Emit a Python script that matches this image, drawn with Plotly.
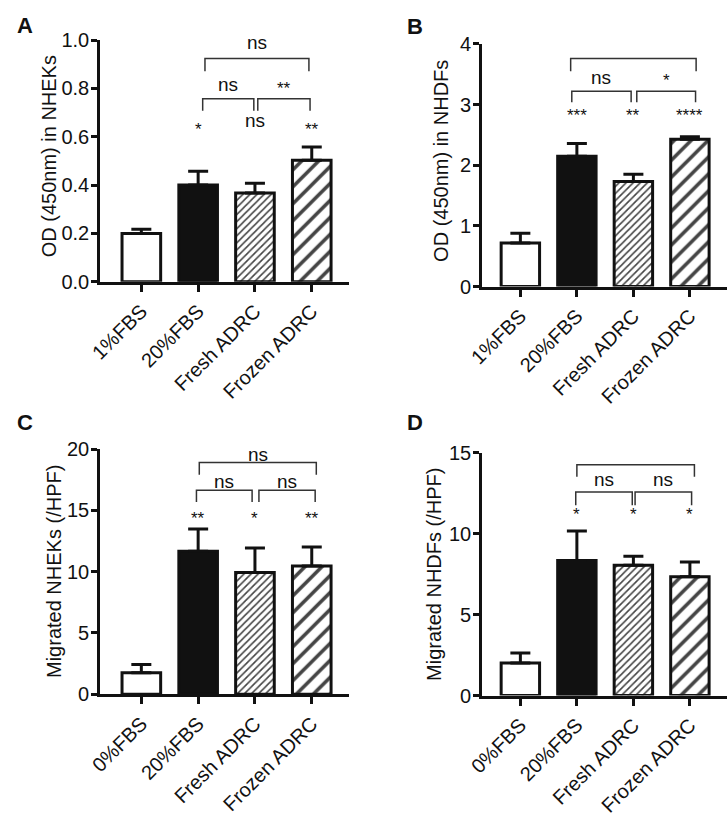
import plotly.graph_objects as go

W, H = 728, 817
FONT = "Arial, Liberation Sans, Helvetica, sans-serif"

# ---- data ----
cats_ab = ["1%FBS", "20%FBS", "Fresh ADRC", "Frozen ADRC"]
cats_cd = ["0%FBS", "20%FBS", "Fresh ADRC", "Frozen ADRC"]

a_vals = [0.20, 0.40, 0.367, 0.503]
a_err = [0.017, 0.057, 0.04, 0.054]
b_vals = [0.72, 2.15, 1.73, 2.43]
b_err = [0.16, 0.21, 0.12, 0.04]
c_vals = [1.75, 11.66, 9.92, 10.45]
c_err = [0.66, 1.82, 2.0, 1.55]
d_vals = [2.01, 8.35, 8.05, 7.35]
d_err = [0.62, 1.83, 0.56, 0.9]

a_stars = ["", "*", "ns", "**"]
b_stars = ["", "***", "**", "****"]
c_stars = ["", "**", "*", "**"]
d_stars = ["", "*", "*", "*"]

a_titles = ("OD (450nm) in NHEKs", [0, 0.2, 0.4, 0.6, 0.8, 1.0], 1.0)
b_titles = ("OD (450nm) in NHDFs", [0, 1, 2, 3, 4], 4)
c_titles = ("Migrated NHEKs (/HPF)", [0, 5, 10, 15, 20], 20)
d_titles = ("Migrated NHDFs (/HPF)", [0, 5, 10, 15], 15)

# comparison brackets: (x1, x2, y_leg_bottom, y_horizontal, label, label_y)
a_brk = [(1.08, 1.98, 0.707, 0.757, "ns", 0.816),
         (2.05, 2.97, 0.707, 0.757, "**", 0.80),
         (1.12, 2.95, 0.871, 0.923, "ns", 0.99)]
b_brk = [(0.91, 1.96, 3.04, 3.22, "ns", 3.45),
         (2.06, 3.10, 3.04, 3.22, "*", 3.40),
         (0.89, 3.11, 3.55, 3.76, "ns", 4.02)]
c_brk = [(0.97, 1.95, 15.67, 16.64, "ns", 17.33),
         (2.07, 3.06, 15.67, 16.64, "ns", 17.33),
         (1.02, 3.08, 17.9, 18.9, "ns", 19.54)]
d_brk = [(0.98, 1.98, 11.77, 12.59, "ns", 13.33),
         (2.03, 3.03, 11.77, 12.59, "ns", 13.33),
         (1.0, 3.08, 13.53, 14.27, "ns", 15.12)]
star_y = [0.63, 2.82, 14.35, 11.2]

panels = [
    dict(letter="A", cats=cats_ab, vals=a_vals, err=a_err, stars=a_stars, t=a_titles, brk=a_brk,
         px=(87, 341), py=(280, 30), tick0=129, sp=58, fmt=".1f", title_xy=(35, 150), letter_xy=(10, 15), sy=star_y[0]),
    dict(letter="B", cats=cats_ab, vals=b_vals, err=b_err, stars=b_stars, t=b_titles, brk=b_brk,
         px=(477, 727), py=(285, 34), tick0=516, sp=57.7, fmt="d", title_xy=(435, 155), letter_xy=(408, 16), sy=star_y[1]),
    dict(letter="C", cats=cats_cd, vals=c_vals, err=c_err, stars=c_stars, t=c_titles, brk=c_brk,
         px=(87, 341), py=(706.5, 453), tick0=129, sp=58, fmt="d", title_xy=(40, 580), letter_xy=(10, 426), sy=star_y[2]),
    dict(letter="D", cats=cats_cd, vals=d_vals, err=d_err, stars=d_stars, t=d_titles, brk=d_brk,
         px=(477, 727), py=(708, 457), tick0=516, sp=57.7, fmt="d", title_xy=(428, 583), letter_xy=(408, 426), sy=star_y[3]),
]

fig = go.Figure()
shapes = []
annos = []
layout = {}
xpos = [0, 1, 2, 3]

for i, p in enumerate(panels):
    n = "" if i == 0 else str(i + 1)
    xa, ya = "x" + n, "y" + n
    fig.add_trace(go.Bar(
        x=xpos, y=p["vals"], xaxis=xa, yaxis=ya, width=0.68,
        marker=dict(color=["white", "#111111", "white", "white"],
                    line=dict(color="#111111", width=3),
                    pattern=dict(shape=["", "", "/", "/"], size=[6, 6, 5, 12],
                                 solidity=[0.3, 0.3, 0.32, 0.3],
                                 fgcolor="#111111", bgcolor="white", fgopacity=1,
                                 fillmode="overlay")),
        error_y=dict(type="data", symmetric=False, array=p["err"], arrayminus=[0, 0, 0, 0],
                     thickness=3, width=10, color="#111111"),
        showlegend=False, hoverinfo="skip"))
    x0p, x1p = p["px"]
    yb, yt = p["py"]
    rng = [(x0p - p["tick0"]) / p["sp"], (x1p - p["tick0"]) / p["sp"]]
    title, ticks, ymax = p["t"]
    layout["xaxis" + n] = dict(domain=[x0p / W, x1p / W], range=rng, anchor=ya,
                               tickvals=xpos, ticktext=p["cats"], tickangle=-45,
                               showline=True, linewidth=3, linecolor="#111111",
                               ticks="outside", ticklen=7, tickwidth=3, tickcolor="#111111",
                               tickfont=dict(family=FONT, size=20, color="#111111"),
                               showgrid=False, zeroline=False, fixedrange=True)
    layout["yaxis" + n] = dict(domain=[1 - yb / H, 1 - yt / H], range=[0, ymax], anchor=xa,
                               tickvals=ticks, tickformat=p["fmt"],
                               showline=True, linewidth=3, linecolor="#111111",
                               ticks="outside", ticklen=6, tickwidth=3, tickcolor="#111111",
                               ticklabelstandoff=-2,
                               tickfont=dict(family=FONT, size=20, color="#111111"),
                               showgrid=False, zeroline=False, fixedrange=True)
    # stars above bars
    for j, s in enumerate(p["stars"]):
        if s:
            annos.append(dict(x=xpos[j], y=p["sy"] if s != "ns" else p["sy"] + (p["t"][2] * 0.035),
                              xref=xa, yref=ya, text=s, showarrow=False,
                              font=dict(family=FONT, size=19 if s == "ns" else 17, color="#111111")))
    # brackets
    for (bx1, bx2, yl, yh, lab, ly) in p["brk"]:
        shapes.append(dict(type="path", xref=xa, yref=ya,
                           path=f"M {bx1},{yl} L {bx1},{yh} L {bx2},{yh} L {bx2},{yl}",
                           line=dict(color="#333333", width=1.5)))
        annos.append(dict(x=(bx1 + bx2) / 2, y=ly, xref=xa, yref=ya, text=lab, showarrow=False,
                          font=dict(family=FONT, size=19 if lab == "ns" else 17, color="#111111")))
    # y title
    tx, ty = p["title_xy"]
    annos.append(dict(x=tx / W, y=1 - ty / H, xref="paper", yref="paper", text=title,
                      textangle=-90, showarrow=False, xanchor="center", yanchor="middle",
                      font=dict(family=FONT, size=20, color="#111111")))
    lx, ly2 = p["letter_xy"]
    annos.append(dict(x=lx / W, y=1 - ly2 / H, xref="paper", yref="paper", text="<b>" + p["letter"] + "</b>",
                      showarrow=False, xanchor="center", yanchor="middle",
                      font=dict(family=FONT, size=22, color="#111111")))

fig.update_layout(width=W, height=H, margin=dict(l=0, r=0, t=0, b=0),
                  paper_bgcolor="white", plot_bgcolor="white",
                  shapes=shapes, annotations=annos, bargap=0.3, **layout)
fig.write_html("out.html", config={"displayModeBar": False},
               post_script="document.body.style.margin='0';document.body.style.overflow='hidden';")
